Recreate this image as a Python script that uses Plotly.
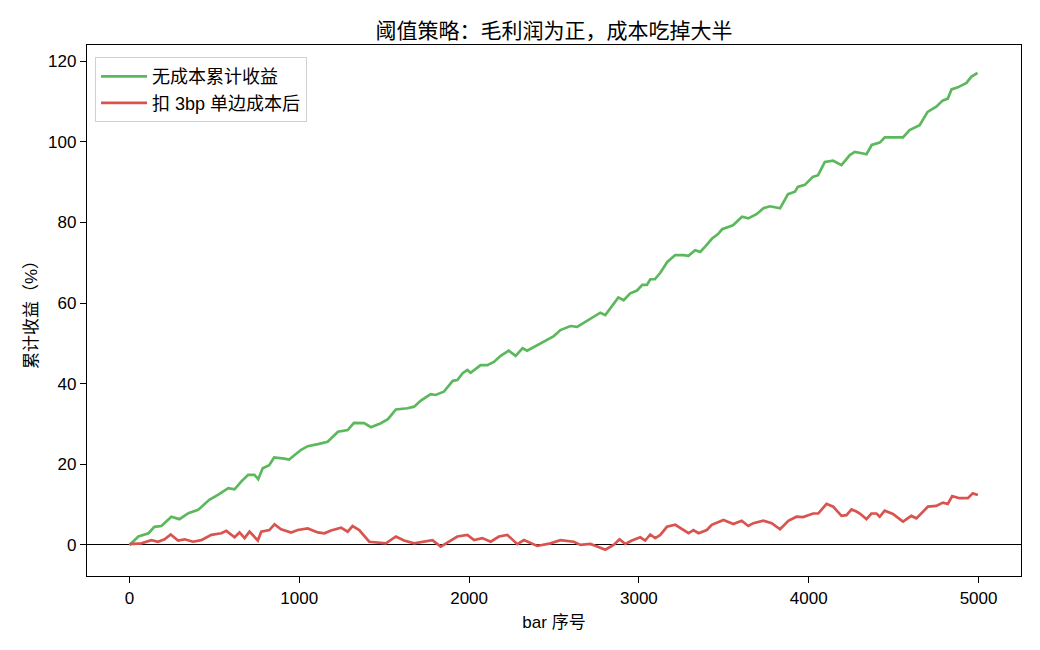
import plotly.graph_objects as go

# Bar index and cumulative return (%)
green_x = [0, 53, 112, 147, 188, 247, 294, 347, 404, 470, 521, 582, 619, 658, 699, 736, 758, 785, 823, 852,
           912, 940, 1011, 1050, 1110, 1167, 1228, 1285, 1322, 1382, 1422, 1480, 1522, 1569, 1637, 1676, 1716,
           1774, 1803, 1851, 1904, 1931, 1962, 1990, 2009, 2068, 2107, 2146, 2186, 2233, 2274, 2315, 2342, 2403,
           2462, 2499, 2538, 2597, 2636, 2697, 2734, 2773, 2802, 2831, 2879, 2910, 2949, 2989, 3020, 3047, 3067,
           3094, 3126, 3167, 3214, 3263, 3292, 3331, 3361, 3390, 3431, 3466, 3490, 3554, 3607, 3644, 3695, 3733,
           3772, 3831, 3878, 3919, 3936, 3977, 4024, 4055, 4095, 4144, 4193, 4242, 4271, 4320, 4340, 4371, 4418,
           4448, 4496, 4555, 4594, 4653, 4700, 4751, 4788, 4819, 4841, 4878, 4929, 4957, 4994]
green_y = [0.0, 2.1, 2.9, 4.5, 4.7, 7.0, 6.4, 7.9, 8.7, 11.2, 12.4, 14.1, 13.8, 15.7, 17.4, 17.4, 16.3, 19.0, 19.8, 21.7,
           21.4, 21.2, 23.6, 24.5, 25.0, 25.6, 28.1, 28.5, 30.3, 30.2, 29.2, 30.2, 31.2, 33.6, 33.9, 34.3, 35.8,
           37.4, 37.2, 38.0, 40.7, 40.9, 42.6, 43.4, 42.7, 44.6, 44.6, 45.4, 46.9, 48.2, 46.9, 48.8, 48.2, 49.6,
           51.0, 51.8, 53.3, 54.3, 54.1, 55.6, 56.6, 57.6, 57.0, 58.7, 61.4, 60.7, 62.4, 63.1, 64.5, 64.5, 65.9,
           65.9, 67.5, 70.2, 71.9, 71.9, 71.7, 73.1, 72.7, 74.0, 76.0, 77.1, 78.3, 79.3, 81.4, 81.0, 82.1, 83.5,
           84.0, 83.5, 87.0, 87.6, 88.8, 89.3, 91.3, 91.7, 95.0, 95.3, 94.2, 96.7, 97.5, 97.1, 96.9, 99.2, 99.8,
           101.1, 101.1, 101.1, 102.9, 104.1, 107.4, 108.7, 110.2, 110.7, 113.0, 113.5, 114.6, 116.1, 117.1]

red_x = [0, 70, 129, 168, 207, 243, 286, 325, 374, 423, 482, 541, 570, 619, 648, 678, 707, 727, 756, 776,
         824, 854, 893, 952, 991, 1050, 1109, 1148, 1187, 1246, 1285, 1314, 1353, 1412, 1461, 1510, 1569, 1617,
         1676, 1735, 1784, 1833, 1892, 1931, 1990, 2029, 2078, 2127, 2176, 2225, 2284, 2323, 2401, 2479, 2538,
         2616, 2656, 2714, 2754, 2802, 2851, 2886, 2920, 2959, 3008, 3037, 3067, 3096, 3126, 3165, 3214, 3263,
         3292, 3321, 3351, 3400, 3429, 3498, 3556, 3605, 3644, 3674, 3733, 3782, 3831, 3880, 3928, 3967, 4026,
         4056, 4105, 4144, 4193, 4222, 4252, 4281, 4301, 4340, 4369, 4399, 4418, 4447, 4496, 4555, 4604, 4634,
         4663, 4702, 4751, 4790, 4819, 4845, 4888, 4937, 4966, 4996]
red_y = [0.2, 0.4, 1.2, 0.8, 1.4, 2.6, 1.1, 1.4, 0.8, 1.2, 2.5, 2.9, 3.5, 1.9, 3.1, 1.7, 3.3, 2.5, 1.1, 3.3,
         3.7, 5.1, 3.9, 3.1, 3.7, 4.1, 3.1, 2.9, 3.6, 4.3, 3.3, 4.7, 3.7, 0.8, 0.6, 0.4, 2.1, 1.1,
         0.4, 0.8, 1.2, -0.4, 1.2, 2.1, 2.5, 1.2, 1.7, 0.8, 2.1, 2.5, 0.2, 1.2, -0.25, 0.4, 1.2,
         0.8, 0.0, 0.25, -0.4, -1.2, 0.0, 1.4, 0.25, 1.1, 1.9, 1.1, 2.6, 1.7, 2.5, 4.5, 5.0, 3.7,
         2.9, 3.7, 2.9, 3.7, 5.0, 6.2, 5.2, 6.0, 4.7, 5.4, 6.0, 5.4, 3.9, 6.0, 7.0, 6.9, 7.8,
         7.8, 10.2, 9.5, 7.2, 7.4, 8.8, 8.3, 7.8, 6.4, 7.8, 7.8, 7.0, 8.5, 7.7, 5.8, 7.2, 6.6,
         7.8, 9.5, 9.7, 10.5, 10.2, 12.1, 11.6, 11.6, 12.8, 12.4]

x_ticks = [0, 1000, 2000, 3000, 4000, 5000]
y_ticks = [0, 20, 40, 60, 80, 100, 120]

FONT = "Liberation Sans, Noto Sans CJK SC, sans-serif"

fig = go.Figure()
fig.add_trace(go.Scatter(x=green_x, y=green_y, mode="lines", name="无成本累计收益",
                         line=dict(color="#5cb85c", width=2.7)))
fig.add_trace(go.Scatter(x=red_x, y=red_y, mode="lines", name="扣 3bp 单边成本后",
                         line=dict(color="#d9534f", width=2.7)))

fig.update_layout(
    width=1040, height=650,
    margin=dict(l=87, r=19, t=45, b=74),
    paper_bgcolor="white", plot_bgcolor="white",
    font=dict(family=FONT, size=17, color="black"),
    title=dict(text="阈值策略：毛利润为正，成本吃掉大半", x=0.5, xref="paper", xanchor="center",
               y=1 - 31 / 650, yanchor="middle", font=dict(family=FONT, size=21, color="black")),
    showlegend=True,
    legend=dict(x=0.0086, y=0.977, xanchor="left", yanchor="top", bgcolor="rgba(255,255,255,0.8)",
                bordercolor="#d0d0d0", borderwidth=1, font=dict(family=FONT, size=18),
                itemwidth=46, tracegroupgap=0),
)
fig.update_xaxes(range=[-250, 5250], tickvals=x_ticks, ticks="outside", ticklen=6, tickwidth=1.4,
                 tickcolor="black", showline=True, linecolor="black", linewidth=1.4, mirror=True,
                 showgrid=False, zeroline=False,
                 title=dict(text="bar 序号", font=dict(family=FONT, size=17), standoff=9),
                 tickfont=dict(family=FONT, size=17))
fig.update_yaxes(range=[-7.7, 124], tickvals=y_ticks, ticks="outside", ticklen=6, tickwidth=1.4,
                 tickcolor="black", showline=True, linecolor="black", linewidth=1.4, mirror=True,
                 showgrid=False, zeroline=True, zerolinecolor="black", zerolinewidth=1.2,
                 title=dict(text="累计收益（%）", font=dict(family=FONT, size=17), standoff=6),
                 tickfont=dict(family=FONT, size=17))

fig.write_html("out.html")
